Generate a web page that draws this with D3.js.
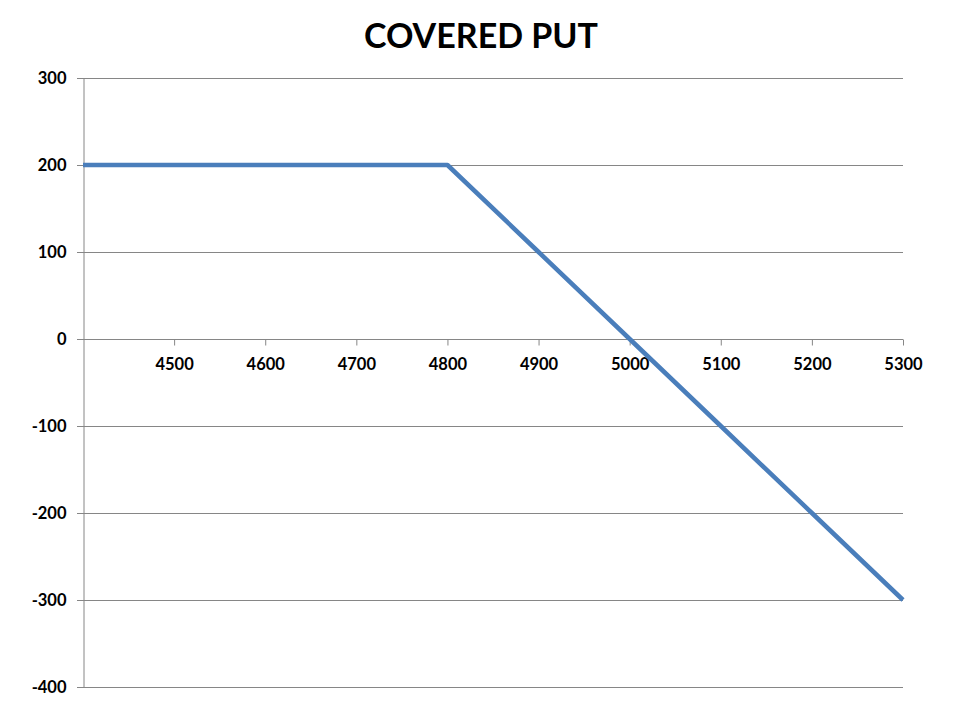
<!DOCTYPE html>
<html><head><meta charset="utf-8">
<script src="https://cdn.jsdelivr.net/npm/d3@7"></script>
<style>body{margin:0;background:#fff;} text{font-family:Lato,"Open Sans",sans-serif;font-weight:bold;}</style>
</head><body><svg id="c" width="960" height="720"></svg>
<script>
const title = "COVERED PUT";
const strikes = [4400, 4500, 4600, 4700, 4800, 4900, 5000, 5100, 5200, 5300];
const payoff = [200, 200, 200, 200, 200, 100, 0, -100, -200, -300];
const xTicks = [4500, 4600, 4700, 4800, 4900, 5000, 5100, 5200, 5300];
const yTicks = [-400, -300, -200, -100, 0, 100, 200, 300];

const svg = d3.select("#c");
const L = 83, R = 903, T = 78, B = 687;
const x = d3.scaleLinear().domain([4400, 5300]).range([L, R]);
const y = d3.scaleLinear().domain([-400, 300]).range([B, T]);
const grid = "#868686";
const fmt = d => String(d);

svg.append("text").attr("x", 481).attr("y", 48).attr("text-anchor", "middle")
  .attr("font-size", 34).attr("fill", "#000").text(title);

// horizontal gridlines
svg.append("g").selectAll("line").data(yTicks).join("line")
  .attr("x1", L - 6).attr("x2", R).attr("y1", d => Math.round(y(d)) + 0.5).attr("y2", d => Math.round(y(d)) + 0.5)
  .attr("stroke", grid).attr("stroke-width", 1);

// y axis
const ya = svg.append("g").attr("transform", `translate(${L + 0.5},0)`)
  .call(d3.axisLeft(y).tickValues(yTicks).tickSize(0).tickPadding(17).tickFormat(fmt));
ya.select(".domain").attr("stroke", grid);
ya.selectAll("text").attr("font-size", 16.5).attr("fill", "#000").attr("font-family", "Lato, 'Open Sans', sans-serif");

// x axis at y=0
const xa = svg.append("g").attr("transform", `translate(0,${Math.round(y(0)) + 0.5})`)
  .call(d3.axisBottom(x).tickValues(xTicks).tickSize(6).tickPadding(13).tickFormat(fmt));
xa.select(".domain").remove();
xa.selectAll("line").attr("stroke", grid);
xa.selectAll("text").attr("font-size", 16.5).attr("fill", "#000").attr("font-family", "Lato, 'Open Sans', sans-serif");

// line
const line = d3.line().x((d, i) => x(strikes[i])).y(d => y(d));
svg.append("path").datum(payoff).attr("d", line).attr("fill", "none")
  .attr("stroke", "#4a7ebb").attr("stroke-width", 4.5).attr("stroke-linejoin", "round");
</script></body></html>
